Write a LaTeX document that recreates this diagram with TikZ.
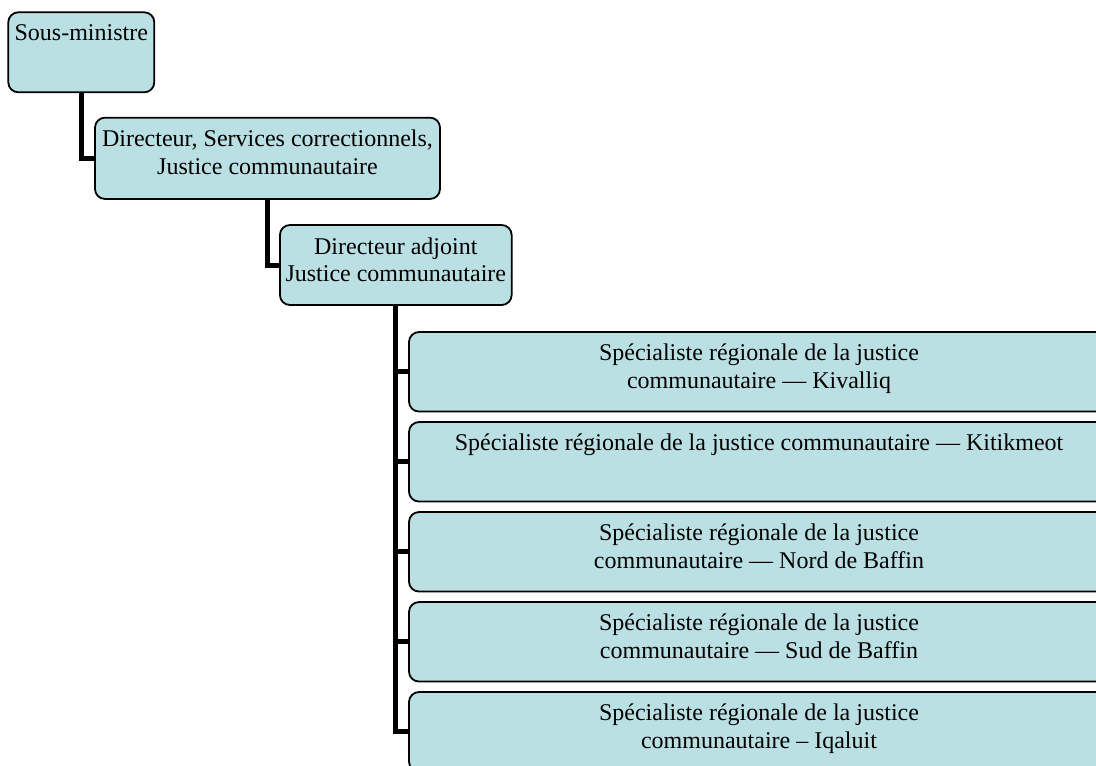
\documentclass[tikz,border=0pt]{standalone}
\usepackage{fontspec}
\setmainfont{Liberation Serif}
\usetikzlibrary{backgrounds}
\definecolor{boxfill}{RGB}{187,224,227}
\tikzset{
  box/.style={draw=black, line width=1.8pt, fill=boxfill, rounded corners=10pt, rectangle, inner sep=0pt},
  txt/.style={anchor=north, inner sep=0pt, align=center, font=\fontsize{24}{27.5}\selectfont, text=black},
  conn/.style={draw=black, line width=5pt, line join=miter}
}
\begin{document}
\begin{tikzpicture}[x=1pt, y=-1pt]
\useasboundingbox (0,0) rectangle (1096,766);
\clip (0,0) rectangle (1096,766);
% boxes
\node[box, minimum width=146pt, minimum height=80pt] (b1) at (81.3,52.3) {};
\node[box, minimum width=345pt, minimum height=81.3pt] (b2) at (267.5,158.3) {};
\node[box, minimum width=231.7pt, minimum height=80pt] (b3) at (395.8,265) {};
\node[box, minimum width=700pt, minimum height=79.5pt] (k1) at (759,371.8) {};
\node[box, minimum width=700pt, minimum height=79.5pt] (k2) at (759,461.8) {};
\node[box, minimum width=700pt, minimum height=79.5pt] (k3) at (759,551.8) {};
\node[box, minimum width=700pt, minimum height=79.5pt] (k4) at (759,641.8) {};
\node[box, minimum width=700pt, minimum height=79.5pt] (k5) at (759,731.8) {};
% texts
\node[txt] (t1) at (81.3,24.5) {Sous-ministre};
\node[txt] (t2) at (267.5,130) {Directeur, Services correctionnels,\\Justice communautaire};
\node[txt] (t3) at (395.8,237.2) {Directeur adjoint\\Justice communautaire};
\node[txt] (s1) at (759,344) {Spécialiste régionale de la justice\\communautaire — Kivalliq};
\node[txt] (s2) at (759,434) {Spécialiste régionale de la justice communautaire — Kitikmeot};
\node[txt] (s3) at (759,524) {Spécialiste régionale de la justice\\communautaire — Nord de Baffin};
\node[txt] (s4) at (759,614) {Spécialiste régionale de la justice\\communautaire — Sud de Baffin};
\node[txt] (s5) at (759,704) {Spécialiste régionale de la justice\\communautaire – Iqaluit};
% connectors
\begin{scope}[on background layer]
\fill[white] (0,0) rectangle (1096,766);
\draw[conn] (b1.south) |- (b2.west);
\draw[conn] (b2.south) |- (b3.west);
\draw[conn] (b3.south) |- (k1.west);
\draw[conn] (b3.south) |- (k2.west);
\draw[conn] (b3.south) |- (k3.west);
\draw[conn] (b3.south) |- (k4.west);
\draw[conn] (b3.south) |- (k5.west);
\end{scope}
\end{tikzpicture}
\end{document}
